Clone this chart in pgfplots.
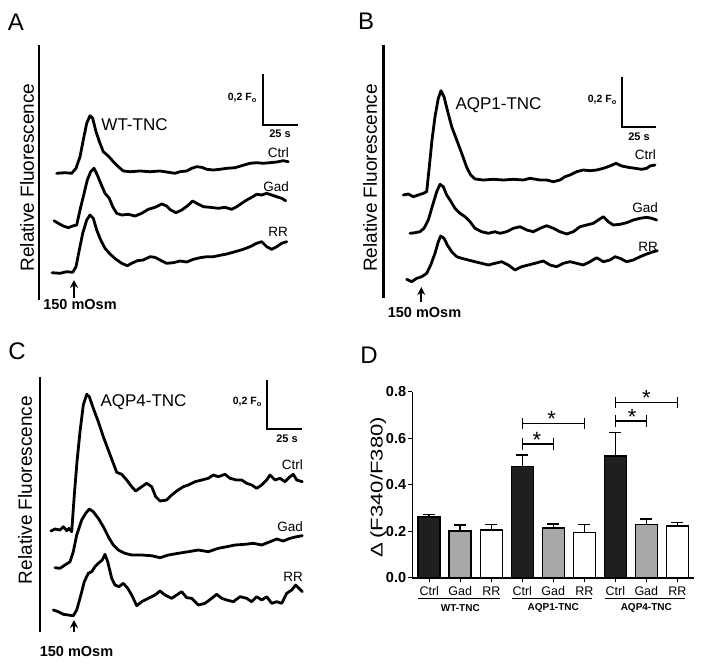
\documentclass[border=0pt]{standalone}
\usepackage{fontspec}
\setmainfont{Liberation Sans}
\usepackage{pgfplots}
\pgfplotsset{compat=1.18}
\usetikzlibrary{arrows.meta}
\definecolor{bargray}{RGB}{168,168,168}
\newcommand{\fs}[1]{\fontsize{#1}{#1}\selectfont}
\begin{document}
\begin{tikzpicture}
\useasboundingbox (0,0) rectangle (704pt,665pt);
\begin{axis}[at={(0,0)}, anchor=south west, width=704pt, height=665pt, scale only axis,
  xmin=0, xmax=704, ymin=0, ymax=665, y dir=reverse, hide axis, clip=false,
  trace/.style={black, line width=2.8pt, line join=round, line cap=round, no marks}]
% ---------------- Panel A ----------------
\addplot[trace] coordinates {(56.7,173.3)(65,172.7)(71.7,173.3)(76,168.3)(80,156.7)(83.3,140)(86.7,123.3)(90,115.7)(92.7,118.3)(96,131.7)(100,143.3)(103.3,151.7)(108.3,156)(113.3,161.7)(118.3,166.7)(123.3,171)(130,171.7)(140,171)(150,171.7)(160,171)(166.7,172)(175,173.3)(180,171.7)(186.7,171)(191.7,168.3)(196.7,166.7)(201.7,167.3)(206.7,169.3)(213.3,170)(220,169.3)(226.7,168.3)(235,167.7)(241.7,165.7)(250,163.3)(256.7,162.7)(263.3,163.3)(270,162.7)(276.7,162)(283.3,160.7)(288.3,161.7)};
\addplot[trace] coordinates {(54,220.7)(58.3,223.3)(63.3,226)(68.3,227.7)(72.7,226)(76.7,225)(80,210)(83.3,196.7)(87.3,180)(90.7,171.7)(94,168.3)(97.3,175)(100.7,183.3)(105,193.3)(109.3,198.3)(112.7,206.7)(116.7,213.3)(121.7,215)(128.3,214.3)(135,216)(141.7,213.3)(148.3,209.3)(155,207.3)(161.7,204)(166.7,206)(170.7,210)(176,212.7)(181.7,210)(187.3,206)(192.7,201)(196.7,203.3)(203.3,206.7)(210,207.3)(218.3,208.3)(225,207.3)(231.7,209.3)(236.7,206.7)(241.7,203.3)(246.7,200)(251.7,197.3)(256.7,194.3)(261.7,195)(266.7,193.3)(271.7,195)(276.7,196.7)(281.7,198.3)(285.7,200.7)};
\addplot[trace] coordinates {(52,272.7)(56,273)(60,273.3)(66.7,271.7)(72.7,272.3)(76,266.7)(79.3,250)(82.7,233.3)(86.7,220)(90,215)(93.3,218.3)(96.7,230)(100.7,240)(105,248.3)(110,254)(116,259.3)(121.7,263.3)(127.3,265.7)(131.7,263.3)(137.3,260.7)(143.3,260)(150,256.7)(155,257.3)(160,260)(166.7,263.3)(173.3,262.7)(180,261)(186.7,262)(193.3,259.3)(200,257.7)(206.7,256.7)(213.3,256.7)(220,255.3)(226.7,254)(235,251.7)(243.3,249.3)(250,246.7)(256.7,243.3)(261.7,241.7)(266.7,246.7)(271.7,249.3)(276.7,246.7)(281.7,243.3)(286.7,241.7)};
% ---------------- Panel B ----------------
\addplot[trace] coordinates {(403.3,195)(408.3,194)(413.3,196.7)(418.3,195)(423.3,193.3)(426.7,191.7)(429.3,166.7)(432,140)(435,116.7)(438.3,98.3)(441,90.7)(444,96.7)(447.3,110)(451.7,126.7)(456.7,140)(461.7,153.3)(466.7,167.3)(470.7,175)(475,179)(483.3,180)(493.3,179.3)(503.3,180)(513.3,179.3)(523.3,180)(530,178.3)(540,180)(546.7,180)(553.3,181.7)(560,180)(565,176.7)(570,175)(576.7,171.7)(583.3,170)(590,170.7)(596.7,170)(603.3,168.3)(610,166)(616,163.3)(621.7,166)(628.3,167.3)(635,168.3)(641.7,169.3)(646.7,168.3)(650,166)(655,165)};
\addplot[trace] coordinates {(410,233.3)(415,232.7)(420,231.7)(424,228.3)(428.3,220)(432.7,205)(436.7,191.7)(440,184.3)(443.3,186.7)(446.7,195)(450,200)(455,208.3)(460,213.3)(465,216.7)(470,221.7)(475,228.3)(481.7,231.7)(488.3,233.3)(495,231.7)(500,233.3)(506.7,231.7)(513.3,228.3)(520,226.7)(526.7,230)(533.3,231.7)(540,228.3)(546.7,225.7)(553.3,228.3)(560,231.7)(566.7,234)(573.3,231.7)(580,226.7)(586.7,225)(593.3,223.3)(598.3,220)(603.3,216.7)(608.3,221.7)(613.3,225)(620,224.3)(626.7,222.7)(633.3,220)(640,218.3)(646.7,217.3)(651.7,218.3)(656.7,220)};
\addplot[trace] coordinates {(406.7,279.3)(411.7,281.7)(416.7,278.3)(421.7,276.7)(426.7,273.3)(430.7,265)(435,253.3)(438.3,241.7)(440.7,236)(444,238.3)(447.3,245)(451.7,251.7)(456.7,256.7)(461.7,258.3)(468.3,260)(475,261.7)(481.7,263.3)(488.3,265)(495,263.3)(501.7,261.7)(508.3,265)(515,270)(521.7,266.7)(528.3,265)(535,263.3)(543.3,261)(550,265)(556.7,266.7)(563.3,263.3)(570,261.7)(576.7,263.3)(583.3,265)(590,261.7)(596.7,257.7)(603.3,261.7)(610,260)(615,256.7)(620,258.3)(626.7,261.7)(633.3,260)(640,256.7)(646.7,254)(653.3,251.7)(657.3,250.7)};
% ---------------- Panel C ----------------
\addplot[trace] coordinates {(51,531)(55,529)(60,530)(63.3,526.7)(66.7,530.7)(69,528.3)(71.7,531.7)(74.3,495)(77,461.7)(80,431.7)(83.3,405)(86.7,394.3)(89.3,396.7)(93.3,408.3)(98.3,421.7)(103.3,436.7)(108.3,450)(113.3,463.3)(116.7,472.3)(121.7,474.3)(126.7,480)(131.7,486.7)(135.7,491)(141.7,486.7)(146.7,483.3)(151.7,486.7)(155.7,496.7)(160,501)(166.7,500)(171.7,495)(176.7,491)(183.3,486.7)(188.3,485)(195,481.7)(201.7,480)(208.3,478.3)(213.3,475)(218.3,476.7)(225,474.3)(230,478.3)(236.7,480)(241.7,480)(246.7,483.3)(251.7,485)(256.7,488.3)(261.7,485)(266.7,480)(270,475)(275,480)(280,478.3)(285,481.7)(290,476.7)(293.3,474.3)(296.7,480)(302.3,481.7)};
\addplot[trace] coordinates {(55,567.7)(60,568.3)(65,565)(70,561.7)(73.3,551.7)(76.7,535)(81.7,520)(85.7,513.3)(89.3,509)(93.3,511.7)(98.3,518.3)(103.3,526.7)(108.3,536.7)(113.3,545)(118.3,550)(125,553.3)(131.7,555)(141.7,555)(151.7,555.7)(160,557.7)(168.3,555)(178.3,553.3)(188.3,551.7)(198.3,550)(208.3,551.7)(218.3,548.3)(226.7,546.7)(235,545)(245,544.3)(253.3,543.3)(261.7,545)(270,541.7)(276.7,539)(283.3,541)(290,538.3)(296.7,536.7)(302.3,535.7)};
\addplot[trace] coordinates {(53.3,610)(58.3,611.7)(63.3,614.3)(68.3,615)(73.3,615.7)(76.7,610)(80,598.3)(84.3,581.7)(88.3,573.3)(91.7,571.7)(95,566.7)(98.3,563.3)(102.3,560)(105,554.3)(107.7,561.7)(111.7,578.3)(115,585)(119,586.7)(123.3,583.3)(127.7,588.3)(131.7,595)(136.7,605.7)(141.7,601.7)(148.3,598.3)(155,595)(160,591)(165,595)(171.7,598.3)(176.7,595)(181.7,591.7)(186.7,597.7)(191.7,598.3)(198.3,605)(205,603.3)(211.7,598.3)(216.7,594.3)(221.7,598.3)(226.7,600)(233.3,601.7)(240,596.7)(246.7,598.3)(251.7,601.7)(256.7,596.7)(261.7,600)(266.7,596.7)(271.7,603.3)(276.7,601.7)(281.7,603.3)(286.7,593.3)(291.7,590)(295.7,585)(299,588.3)(302.3,591.7)};
% ---------------- decorations ----------------
\draw[line width=2.8pt] (39,45) -- (39,300);
\draw[line width=2.8pt] (383.7,45) -- (383.7,298);
\draw[line width=2.8pt] (40,376.7) -- (40,631.7);
\draw[line width=2.2pt] (263,74) -- (263,125) -- (298,125);
\draw[line width=2.2pt] (622,77) -- (622,127) -- (656,127);
\draw[line width=2.2pt] (266.7,380) -- (266.7,429.3) -- (301.7,429.3);
\draw[line width=2.2pt, -{Stealth[length=8pt,width=8pt]}] (74,298) -- (74,280);
\draw[line width=2.2pt, -{Stealth[length=8pt,width=8pt]}] (421.3,302) -- (421.3,287);
\draw[line width=2.2pt, -{Stealth[length=8pt,width=8pt]}] (74,632) -- (74,620);
% panel letters
\node[font=\fs{24}] at (16,22) {A};
\node[font=\fs{24}] at (366,21) {B};
\node[font=\fs{24}] at (17,351) {C};
\node[font=\fs{24}] at (369,355) {D};
% y labels
\node[rotate=90, font=\fs{19}] at (27,177.5) {Relative Fluorescence};
\node[rotate=90, font=\fs{19}] at (370,178) {Relative Fluorescence};
\node[rotate=90, font=\fs{19}] at (25,490) {Relative Fluorescence};
% titles
\node[font=\fs{17}] at (134.5,125) {WT-TNC};
\node[font=\fs{17}] at (498.5,105) {AQP1-TNC};
\node[font=\fs{17}] at (143.5,401.7) {AQP4-TNC};
% trace labels
\node[anchor=east, font=\fs{13.5}, inner sep=0pt] at (289,153) {Ctrl};
\node[anchor=east, font=\fs{13.5}, inner sep=0pt] at (289,187) {Gad};
\node[anchor=east, font=\fs{13.5}, inner sep=0pt] at (288,232) {RR};
\node[anchor=east, font=\fs{13.5}, inner sep=0pt] at (656,155) {Ctrl};
\node[anchor=east, font=\fs{13.5}, inner sep=0pt] at (658,208) {Gad};
\node[anchor=east, font=\fs{13.5}, inner sep=0pt] at (658,247) {RR};
\node[anchor=east, font=\fs{13.5}, inner sep=0pt] at (303,465) {Ctrl};
\node[anchor=east, font=\fs{13.5}, inner sep=0pt] at (303,526.7) {Gad};
\node[anchor=east, font=\fs{13.5}, inner sep=0pt] at (303,576.7) {RR};
% scale labels
\node[anchor=east, font=\bfseries\fs{10.5}, inner sep=0pt] at (257,98) {0,2 F\textsubscript{o}};
\node[anchor=east, font=\bfseries\fs{10.5}, inner sep=0pt] at (617,100) {0,2 F\textsubscript{o}};
\node[anchor=east, font=\bfseries\fs{10.5}, inner sep=0pt] at (262,401.7) {0,2 F\textsubscript{o}};
\node[font=\bfseries\fs{11}] at (280,134) {25 s};
\node[font=\bfseries\fs{11}] at (639,137) {25 s};
\node[font=\bfseries\fs{11}] at (287,438.3) {25 s};
% stimulus labels
\node[font=\bfseries\fs{14.5}] at (80,305) {150 mOsm};
\node[font=\bfseries\fs{14.5}] at (424.5,313) {150 mOsm};
\node[font=\bfseries\fs{14.5}] at (76.5,651.5) {150 mOsm};
\end{axis}
% ---------------- Panel D ----------------
\begin{axis}[at={(412.3pt,87.3pt)}, anchor=south west, width=282pt, height=186pt, scale only axis,
  xmin=-0.548, xmax=8.548, ymin=0, ymax=0.8, clip=false,
  axis x line=bottom, axis y line=left, axis line style={-, line width=1.6pt},
  ytick={0,0.2,0.4,0.6,0.8}, xtick={0,...,8},
  xticklabels={Ctrl,Gad,RR,Ctrl,Gad,RR,Ctrl,Gad,RR},
  tick align=outside, major tick length=4.5pt, tick style={line width=1.4pt, black},
  yticklabel style={/pgf/number format/fixed, /pgf/number format/fixed zerofill, /pgf/number format/precision=1, /pgf/number format/assume math mode=true, font=\bfseries\fs{14.5}, inner sep=1.5pt},
  xticklabel style={font=\fs{12.5}, inner sep=1pt, yshift=-3pt},
  ybar, bar width=22pt,
  err/.style={error bars/y dir=plus, error bars/y explicit, error bars/error mark=|,
    error bars/error bar style={draw=black, line width=1.6pt},
    error bars/error mark options={draw=black, line width=1.6pt, mark size=6pt}}]
\addplot[ybar, bar shift=0pt, fill=black!88, draw=black, line width=1.6pt, err] coordinates {(0,0.260) +- (0,0.012) (3,0.479) +- (0,0.048) (6,0.523) +- (0,0.101)};
\addplot[ybar, bar shift=0pt, fill=bargray, draw=black, line width=1.6pt, err] coordinates {(1,0.202) +- (0,0.024) (4,0.215) +- (0,0.016) (7,0.228) +- (0,0.024)};
\addplot[ybar, bar shift=0pt, fill=white, draw=black, line width=1.6pt, err] coordinates {(2,0.205) +- (0,0.024) (5,0.195) +- (0,0.034) (8,0.222) +- (0,0.016)};
% significance brackets
\draw[line width=1.6pt] (3,0.575) -- (4,0.575); \draw[line width=1.6pt] (3,0.550) -- (3,0.600); \draw[line width=1.6pt] (4,0.550) -- (4,0.600);
\draw[line width=1.6pt] (3,0.664) -- (5,0.664); \draw[line width=1.6pt] (3,0.639) -- (3,0.689); \draw[line width=1.6pt] (5,0.639) -- (5,0.689);
\draw[line width=1.6pt] (6,0.674) -- (7,0.674); \draw[line width=1.6pt] (6,0.649) -- (6,0.699); \draw[line width=1.6pt] (7,0.649) -- (7,0.699);
\draw[line width=1.6pt] (6,0.754) -- (8,0.754); \draw[line width=1.6pt] (6,0.729) -- (6,0.779); \draw[line width=1.6pt] (8,0.729) -- (8,0.779);
\node[font=\fs{22}] at (3.47,0.594) {*};
\node[font=\fs{22}] at (3.95,0.683) {*};
\node[font=\fs{22}] at (6.54,0.693) {*};
\node[font=\fs{22}] at (7.0,0.773) {*};
% group underlines
\draw[line width=1.4pt] (-0.355,-0.090) -- (2.29,-0.090);
\draw[line width=1.4pt] (2.68,-0.090) -- (5.26,-0.090);
\draw[line width=1.4pt] (5.68,-0.090) -- (8.26,-0.090);
\node[font=\bfseries\fs{10}] at (1,-0.132) {WT-TNC};
\node[font=\bfseries\fs{10}] at (4,-0.132) {AQP1-TNC};
\node[font=\bfseries\fs{10}] at (7,-0.132) {AQP4-TNC};
\node[rotate=90, font=\fs{17}] at (-1.645,0.39) {\scalebox{1.3}[1]{Δ\,(F340/F380)}};
\end{axis}
\end{tikzpicture}
\end{document}
